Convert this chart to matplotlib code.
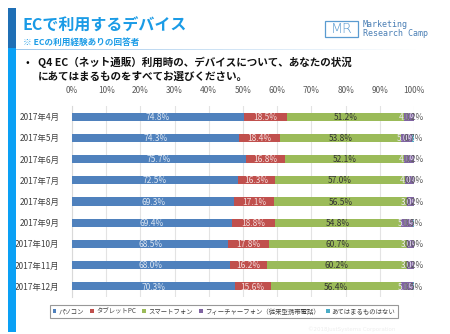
import matplotlib
matplotlib.use("Agg")
import matplotlib.pyplot as plt
from matplotlib.patches import Rectangle
import numpy as np

plt.rcParams['font.family'] = ['Noto Sans CJK JP', 'DejaVu Sans']

months = ["2017年4月", "2017年5月", "2017年6月", "2017年7月", "2017年8月",
          "2017年9月", "2017年10月", "2017年11月", "2017年12月"]
series_names = ["パソコン", "タブレットPC", "スマートフォン",
                "フィーチャーフォン（従来型携帯電話）", "あてはまるものはない"]
pc = [74.8, 74.3, 75.7, 72.5, 69.3, 69.4, 68.5, 68.0, 70.3]
tablet = [18.5, 18.4, 16.8, 16.3, 17.1, 18.8, 17.8, 16.2, 15.6]
smartphone = [51.2, 53.8, 52.1, 57.0, 56.5, 54.8, 60.7, 60.2, 56.4]
featurephone = [4.0, 5.0, 4.0, 4.0, 3.0, 5.0, 3.0, 3.0, 5.0]
none = [0.2, 0.7, 0.2, 0.0, 0.2, 0.5, 0.0, 0.2, 0.5]
xticks = [0, 10, 20, 30, 40, 50, 60, 70, 80, 90, 100]

colors = ["#4f81bd", "#c0504d", "#9bbb59", "#8064a2", "#4bacc6"]
label_colors = ["#dce6f2", "#f2dcdb", "#333333", "#ebe6f2", "#595959"]

W, H = 450, 334
fig = plt.figure(figsize=(W / 100, H / 100), dpi=100)
fig.patch.set_facecolor("white")

def fx(px):
    return px / W

def fy(py):
    return 1 - py / H

# decorative left stripe
fig.add_artist(Rectangle((fx(8), fy(48)), fx(8), 40 / H, transform=fig.transFigure,
                         color="#1f6fb5", lw=0))
fig.add_artist(Rectangle((fx(8), fy(332)), fx(8), 284 / H, transform=fig.transFigure,
                         color="#0aa0f5", lw=0))
# separator line with fade
n = 60
for i in range(n):
    x0 = 16 + i * (400 / n)
    a = max(0, 1 - i / n)
    fig.add_artist(Rectangle((fx(x0), fy(50)), fx(400 / n), 1.5 / H,
                             transform=fig.transFigure, color="#9fc7ea", alpha=a, lw=0))

# title
fig.text(fx(22), fy(31), "ECで利用するデバイス", fontsize=11.5, fontweight="bold",
         color="#1a9be6", va="baseline", ha="left")
fig.text(fx(23), fy(45), "※ ECの利用経験ありの回答者", fontsize=6.2, fontweight="bold",
         color="#1a9be6", va="baseline", ha="left")

# logo
fig.add_artist(Rectangle((fx(325), fy(37)), fx(33), 16 / H, transform=fig.transFigure,
                         fill=False, ec="#5a9bd0", lw=0.9))
fig.text(fx(341.5), fy(29), "MR", fontsize=10, color="#5a9bd0", ha="center", va="center",
         family="DejaVu Sans", fontweight="light")
fig.text(fx(363), fy(24.5), "Marketing", fontsize=6, color="#4a7fb5", ha="left",
         va="center", family="DejaVu Sans Mono")
fig.text(fx(363), fy(34), "Research Camp", fontsize=6, color="#4a7fb5", ha="left",
         va="center", family="DejaVu Sans Mono")

# question
fig.text(fx(26), fy(66.5), "•", fontsize=8, color="black", ha="left", va="baseline")
fig.text(fx(38), fy(66.5), "Q4 EC（ネット通販）利用時の、デバイスについて、あなたの状況",
         fontsize=7.6, fontweight="bold", color="#111111", ha="left", va="baseline")
fig.text(fx(38), fy(79.5), "にあてはまるものをすべてお選びください。",
         fontsize=7.6, fontweight="bold", color="#111111", ha="left", va="baseline")

# chart
ax = fig.add_axes([fx(72), fy(297), fx(414) - fx(72), (297 - 106) / H])
data = np.array([pc, tablet, smartphone, featurephone, none], dtype=float)
totals = data.sum(axis=0)
pct = data / totals * 100
y = np.arange(len(months))
left = np.zeros(len(months))
for k in range(len(series_names)):
    ax.barh(y, pct[k], left=left, height=0.38, color=colors[k], label=series_names[k],
            zorder=3)
    for i in range(len(months)):
        cx = left[i] + pct[k][i] / 2
        ax.text(cx, y[i] + 0.03, f"{data[k][i]:.1f}%", ha="center", va="center",
                fontsize=6, color=label_colors[k], zorder=4)
    left += pct[k]

ax.set_xlim(0, 100)
ax.set_ylim(len(months) - 0.5, -0.5)
ax.set_yticks(y)
ax.set_yticklabels(months, fontsize=6, color="#404040")
ax.set_xticks(xticks)
ax.set_xticklabels([f"{t}%" for t in xticks], fontsize=6, color="#595959")
ax.xaxis.tick_top()
ax.tick_params(length=0, pad=8)
ax.tick_params(axis="y", pad=9)
ax.grid(axis="x", color="#e3e3e3", lw=0.8, zorder=0)
for s in ["top", "right", "bottom"]:
    ax.spines[s].set_visible(False)
ax.spines["left"].set_color("#d9d9d9")

leg = fig.legend(loc="center", bbox_to_anchor=(fx(224), fy(311.5)), ncol=5,
                 fontsize=4.6, frameon=True, fancybox=False, edgecolor="#7f7f7f",
                 handlelength=0.6, handleheight=0.6, handletextpad=0.3,
                 columnspacing=1.0, borderpad=0.35, labelcolor="#404040")
leg.get_frame().set_linewidth(0.8)

fig.text(fx(352), fy(329), "©2018JustSystems Corporation", fontsize=4, color="#eeeeee",
         ha="center", va="center", family="DejaVu Sans")

fig.savefig("out.png", dpi=100, facecolor="white")
